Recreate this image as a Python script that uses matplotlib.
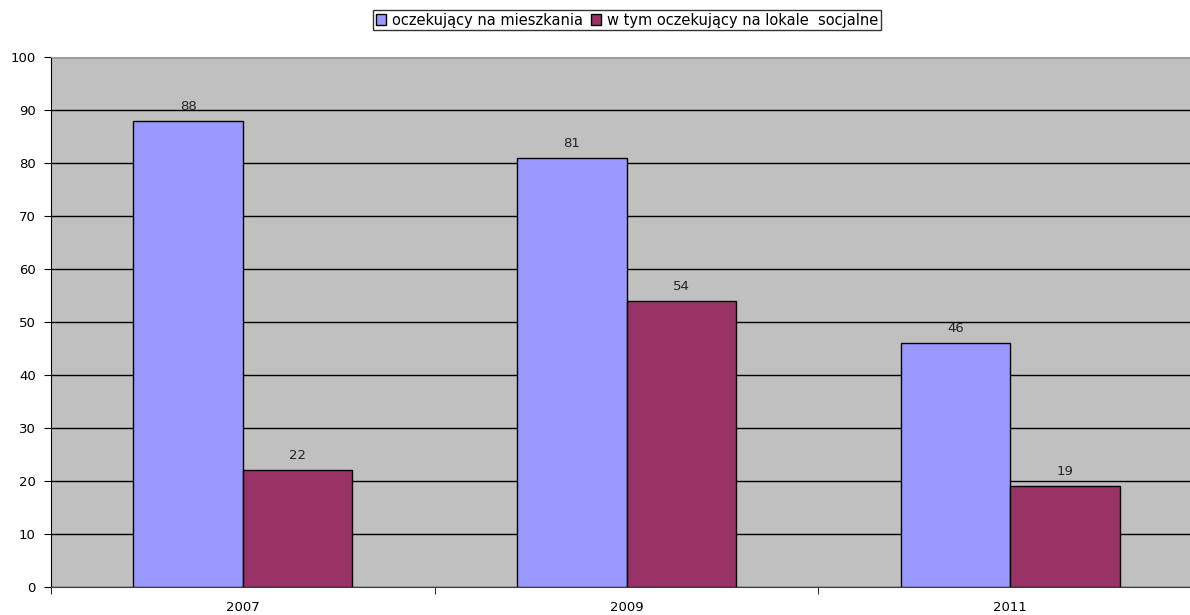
import matplotlib.pyplot as plt
import numpy as np

plt.rcParams['font.family'] = ['DejaVu Sans']

# Data
years = ['2007', '2009', '2011']
waiting_flats = [88, 81, 46]
waiting_social = [22, 54, 19]
series_labels = ['oczekujący na mieszkania', 'w tym oczekujący na lokale  socjalne']
colors = ['#9999FF', '#993366']

fig = plt.figure(figsize=(11.9, 6.15), dpi=100)
# plot area runs slightly past the right edge, like the original screenshot
ax = fig.add_axes([51 / 1190, 1 - 587 / 615, 1151 / 1190, 530 / 615])
ax.set_facecolor('#C0C0C0')

x = np.arange(len(years))
w = 1 / 3.5
bars1 = ax.bar(x - w / 2, waiting_flats, w, color=colors[0], edgecolor='black',
               linewidth=1, label=series_labels[0], zorder=3)
bars2 = ax.bar(x + w / 2, waiting_social, w, color=colors[1], edgecolor='black',
               linewidth=1, label=series_labels[1], zorder=3)

for bars in (bars1, bars2):
    for b in bars:
        ax.text(b.get_x() + b.get_width() / 2, b.get_height() + 1.5,
                f'{int(b.get_height())}', ha='center', va='bottom',
                fontsize=9.5, color='#222222', zorder=4)

ax.set_xlim(-0.5, len(years) - 0.5)
ax.set_ylim(0, 100)
ax.set_yticks(range(0, 101, 10))
ax.yaxis.grid(True, color='black', linewidth=1, zorder=1)
ax.set_axisbelow(True)

# category labels centred, ticks on category boundaries
ax.set_xticks(x)
ax.set_xticklabels(years, fontsize=9.5)
ax.tick_params(axis='x', which='major', length=0, pad=10)
ax.set_xticks(np.arange(len(years) + 1) - 0.5, minor=True)
ax.tick_params(axis='x', which='minor', length=5, color='black')
ax.tick_params(axis='y', length=5, labelsize=9.5, pad=6)

ax.spines['top'].set_color('#A0A0A0')
ax.spines['right'].set_visible(False)
ax.spines['left'].set_color('black')
ax.spines['bottom'].set_color('#404040')

leg = fig.legend(loc='center', bbox_to_anchor=(627 / 1190, 1 - 20 / 615), ncol=2,
                 frameon=True, fancybox=False, edgecolor='black', fontsize=10.5,
                 handlelength=0.7, handleheight=0.7, handletextpad=0.35,
                 columnspacing=0.6, borderpad=0.2, borderaxespad=0)
leg.get_frame().set_linewidth(1)

fig.savefig('out.png', dpi=100, facecolor='white')
